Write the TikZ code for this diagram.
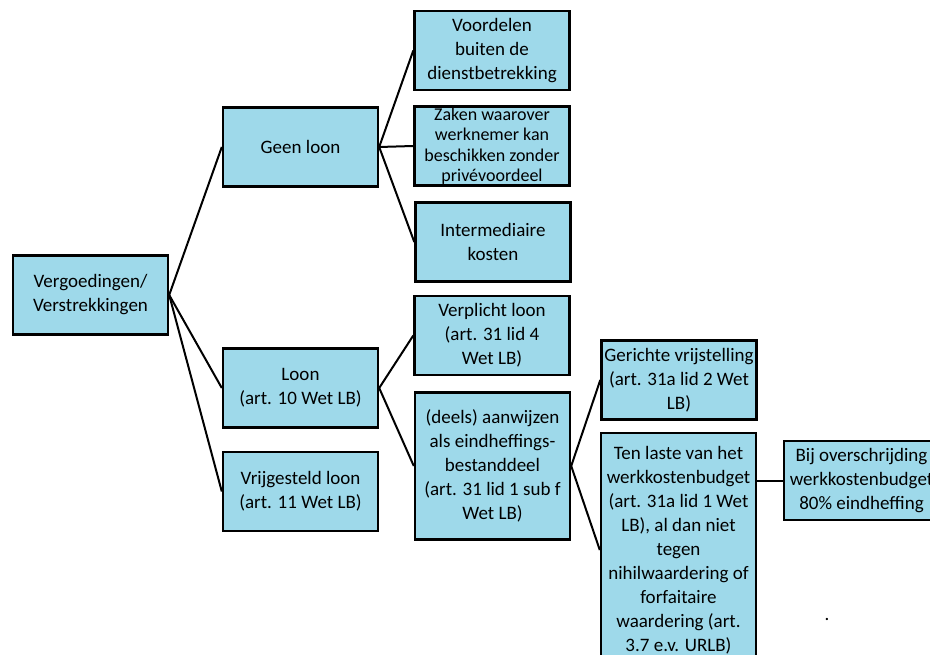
\documentclass[tikz,border=0pt]{standalone}
\usepackage{fontspec}
\setmainfont{Carlito}
\usepackage{tikz}
\usetikzlibrary{positioning}

\definecolor{boxblue}{RGB}{158,217,234}

\begin{document}
\begin{tikzpicture}[x=1pt, y=-1pt,
					semithick,
					every node/.style={font=\fontsize{19}{24}\selectfont},
					box/.style={draw, line width=2.4pt, fill=boxblue, align=center,
						inner sep=0pt, minimum width=155pt, minimum height=79pt},
					link/.style={-, line width=2pt}]

	\useasboundingbox (0,0) rectangle (930,655);

	\node[box] (verg) at (90.5,295)  {Vergoedingen/\\Verstrekkingen};
	\node[box] (geen) at (300.5,147)  {Geen loon};
	\node[box] (loon) at (300.5,388)  {Loon\\ (art. 10 Wet LB)};
	\node[box] (vrij) at (300.5,491.5)  {Vrijgesteld loon\\(art. 11 Wet LB)};
	\node[box] (voord) at (492,50.5)  {Voordelen\\buiten de\\dienstbetrekking};
	\node[box, font=\fontsize{18}{20.5}\selectfont] (zaken) at (492,146)  {Zaken waarover\\werknemer kan\\beschikken zonder\\privévoordeel};
	\node[box] (inter) at (493,242)  {Intermediaire\\kosten};
	\node[box] (verpl) at (492,335.5)  {Verplicht loon\\(art. 31 lid 4\\Wet LB)};
	\node[box, minimum height=147pt] (deels) at (492.5,466)  {(deels) aanwijzen\\als eindheffings-\\bestanddeel\\(art. 31 lid 1 sub f\\Wet LB)};
	\node[box] (gericht) at (679,380)  {Gerichte vrijstelling\\(art. 31a lid 2 Wet\\LB)};
	\node[box, minimum height=234pt] (laste) at (678.5,550)  {Ten laste van het\\werkkostenbudget\\(art. 31a lid 1 Wet\\LB), al dan niet\\tegen\\nihilwaardering of\\forfaitaire\\waardering (art.\\3.7 e.v. URLB)};
	\node[box] (overschr) at (861.5,480.5)  {Bij overschrijding\\werkkostenbudget\\80\% eindheffing};
	\node (punt) at (827,619)  {.};

	\draw[link]	(verg.east) edge (geen.west)
			(verg.east) edge (loon.west)
			(verg.east) edge (vrij.west)
			(geen.east) edge (voord.west)
			(geen.east) edge (zaken.west)
			(geen.east) edge (inter.west)
			(loon.east) edge (verpl.west)
			(loon.east) edge (deels.west)
			(deels.east) edge (gericht.west)
			(deels.east) edge (laste.west)
			(overschr.west -| laste.east) edge (overschr.west)
;
\end{tikzpicture}
\end{document}
